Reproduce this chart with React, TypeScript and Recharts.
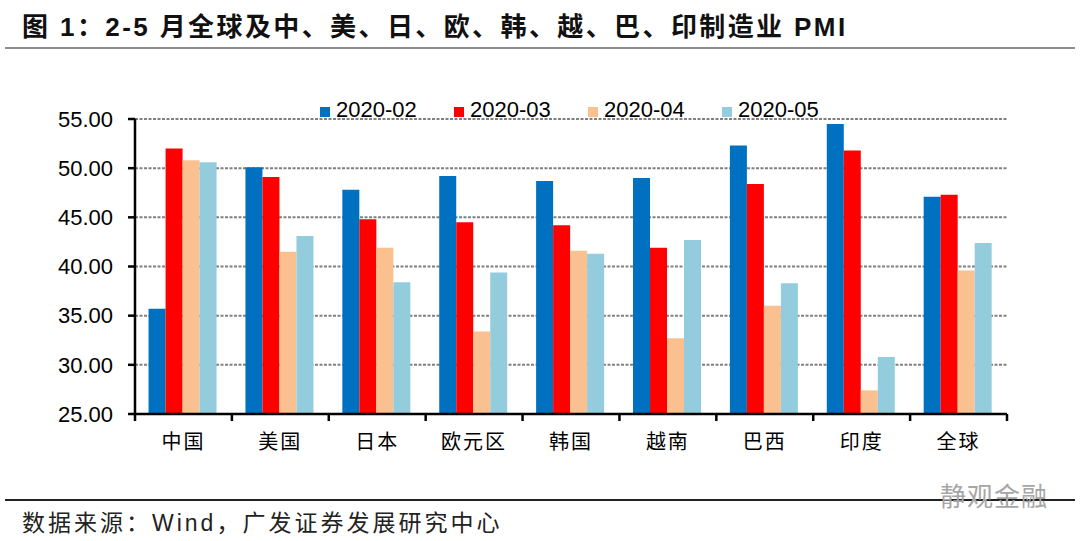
import React from 'react';
import { BarChart, Bar, XAxis, YAxis, CartesianGrid } from 'recharts';

// 国家/地区
const regions = ['中国', '美国', '日本', '欧元区', '韩国', '越南', '巴西', '印度', '全球'];

// 制造业 PMI
const pmiFeb = [35.7, 50.1, 47.8, 49.2, 48.7, 49.0, 52.3, 54.5, 47.1];
const pmiMar = [52.0, 49.1, 44.8, 44.5, 44.2, 41.9, 48.4, 51.8, 47.3];
const pmiApr = [50.8, 41.5, 41.9, 33.4, 41.6, 32.7, 36.0, 27.4, 39.6];
const pmiMay = [50.6, 43.1, 38.4, 39.4, 41.3, 42.7, 38.3, 30.8, 42.4];

const yTicks = [25, 30, 35, 40, 45, 50, 55];

const series = [
  { key: '2020-02', values: pmiFeb, color: '#0070C0' },
  { key: '2020-03', values: pmiMar, color: '#FF0000' },
  { key: '2020-04', values: pmiApr, color: '#FAC090' },
  { key: '2020-05', values: pmiMay, color: '#93CDDD' },
];

const data = regions.map((name, i) => {
  const row: Record<string, string | number> = { name };
  series.forEach((s) => {
    row[s.key] = s.values[i];
  });
  return row;
});

const CHART_W = 1080;
const CHART_H = 541;
const margin = { top: 119, right: 73, bottom: 97, left: 0 };
const Y_AXIS_W = 135;
const PLOT_W = CHART_W - margin.left - margin.right - Y_AXIS_W;
const BAND = PLOT_W / regions.length;

const latin = "'Liberation Sans', Arial, 'Noto Sans CJK SC', sans-serif";
const cjk = "'Noto Sans CJK SC', 'Liberation Sans', sans-serif";

const CategoryTick = (props: any) => {
  const { x, y, payload, index } = props;
  const isLast = index === regions.length - 1;
  return (
    <g>
      <line x1={x - BAND / 2} x2={x - BAND / 2} y1={y} y2={y + 7} stroke="#000" strokeWidth={2.5} />
      {isLast && (
        <line x1={x + BAND / 2} x2={x + BAND / 2} y1={y} y2={y + 7} stroke="#000" strokeWidth={2.5} />
      )}
      <text x={x} y={y} dy={35} textAnchor="middle" fontSize={20} fontFamily={cjk} fill="#000" letterSpacing={2}>
        {payload.value}
      </text>
    </g>
  );
};

// 图例放在图表之外，避免占用绘图区空间
const ChartLegend = () => (
  <div style={{ position: 'absolute', left: 0, top: 97, width: CHART_W, height: 26 }}>
    {series.map((s, i) => (
      <div
        key={s.key}
        style={{
          position: 'absolute',
          left: 320 + i * 134,
          top: 0,
          display: 'flex',
          alignItems: 'center',
        }}
      >
        <span style={{ display: 'inline-block', width: 10, height: 10, background: s.color, marginRight: 6, marginTop: 4 }} />
        <span style={{ fontFamily: latin, fontSize: 22, color: '#000', lineHeight: '26px' }}>{s.key}</span>
      </div>
    ))}
  </div>
);

export default function App() {
  return (
    <div
      style={{
        position: 'absolute',
        left: 0,
        top: 0,
        width: CHART_W,
        height: CHART_H,
        background: '#fff',
        overflow: 'hidden',
      }}
    >
      <div
        style={{
          position: 'absolute',
          left: 22,
          top: 10,
          fontFamily: latin,
          fontWeight: 'bold',
          fontSize: 26,
          letterSpacing: 2.4,
          color: '#111',
          whiteSpace: 'nowrap',
          lineHeight: '34px',
        }}
      >
        图 1：2-5 月全球及中、美、日、欧、韩、越、巴、印制造业 PMI
      </div>
      <div style={{ position: 'absolute', left: 5, top: 47, width: 1070, height: 2, background: '#8c8c8c' }} />

      <div style={{ position: 'absolute', left: 0, top: 0 }}>
        <BarChart width={CHART_W} height={CHART_H} data={data} margin={margin} barCategoryGap="14%" barGap={0}>
          <CartesianGrid vertical={false} stroke="#808080" strokeWidth={2} strokeDasharray="3 1.5" />
          <XAxis
            dataKey="name"
            height={30}
            tickSize={0}
            tickMargin={0}
            axisLine={{ stroke: '#000', strokeWidth: 2.5 }}
            tickLine={false}
            tick={<CategoryTick />}
            interval={0}
          />
          <YAxis
            width={Y_AXIS_W}
            domain={[25, 55]}
            ticks={yTicks}
            interval={0}
            tickFormatter={(v: number) => v.toFixed(2)}
            tickSize={7}
            tickMargin={15}
            axisLine={{ stroke: '#000', strokeWidth: 2.5 }}
            tickLine={{ stroke: '#000', strokeWidth: 2.5 }}
            tick={{ fontSize: 22, fontFamily: latin, fill: '#000' }}
          />
          {series.map((s) => (
            <Bar key={s.key} dataKey={s.key} fill={s.color} isAnimationActive={false} />
          ))}
        </BarChart>
      </div>

      <ChartLegend />

      <div style={{ position: 'absolute', left: 5, top: 499, width: 1070, height: 1.5, background: '#222' }} />
      <div
        style={{
          position: 'absolute',
          left: 940,
          top: 476,
          fontFamily: cjk,
          fontSize: 26,
          color: '#a6a6a6',
          letterSpacing: 1,
          whiteSpace: 'nowrap',
        }}
      >
        静观金融
      </div>
      <div
        style={{
          position: 'absolute',
          left: 22,
          top: 508,
          fontFamily: latin,
          fontSize: 23,
          color: '#222',
          letterSpacing: 3,
          whiteSpace: 'nowrap',
          lineHeight: '30px',
        }}
      >
        数据来源：Wind，广发证券发展研究中心
      </div>
    </div>
  );
}
